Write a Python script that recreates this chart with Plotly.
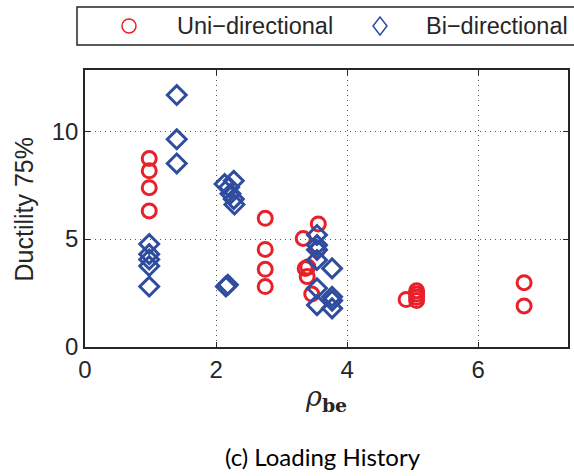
import plotly.graph_objects as go

# Uni-directional loading tests: reinforcement ratio vs. ductility at 75% strength
uni_rho = [0.98, 0.98, 0.98, 0.98,
           2.75, 2.75, 2.75, 2.75,
           3.56, 3.33, 3.55, 3.36, 3.40, 3.39, 3.46,
           4.90, 5.06, 5.06, 5.06, 5.06,
           6.70, 6.70]
uni_duct = [8.73, 8.16, 7.38, 6.30,
            5.96, 4.52, 3.60, 2.80,
            5.70, 5.03, 4.50, 3.64, 3.70, 3.26, 2.45,
            2.20, 2.60, 2.45, 2.30, 2.15,
            2.98, 1.90]

# Bi-directional loading tests
bi_rho = [1.40, 1.40, 1.40,
          0.98, 0.98, 0.98, 0.98, 0.98,
          2.13, 2.20, 2.27, 2.22, 2.27, 2.28,
          2.15, 2.18,
          3.54, 3.54, 3.54, 3.54, 3.54, 3.54,
          3.77, 3.77, 3.77, 3.77]
bi_duct = [11.67, 9.62, 8.50,
           4.77, 4.30, 4.05, 3.75, 2.80,
           7.55, 7.40, 7.70, 7.10, 6.85, 6.60,
           2.80, 2.88,
           5.19, 4.72, 4.50, 4.03, 2.72, 1.94,
           3.64, 2.33, 2.15, 1.79]

x_ticks = [0, 2, 4, 6]
y_ticks = [0, 5, 10]

RED = "#e8202a"
BLUE = "#2f4d9f"
TXT = "#262626"
SANS = "Liberation Sans, Arial"
W, H = 574, 476
ML, MR, MT, MB = 85, 6, 70, 129
PW, PH = W - ML - MR, H - MT - MB


def px(x):
    return (x - ML) / PW


def py(y):
    return (H - MB - y) / PH


fig = go.Figure()
fig.add_trace(go.Scatter(
    x=uni_rho, y=uni_duct, mode="markers", name="Uni\u2212directional",
    marker=dict(symbol="circle-open", size=14, color=RED, line=dict(width=3, color=RED)),
    showlegend=False,
))
fig.add_trace(go.Scatter(
    x=bi_rho, y=bi_duct, mode="markers", name="Bi\u2212directional",
    marker=dict(symbol="diamond-open", size=14.5, color=BLUE, line=dict(width=3, color=BLUE)),
    showlegend=False,
))

axis_common = dict(
    showline=True, linecolor="#262626", linewidth=1.5, mirror="ticks",
    ticks="inside", ticklen=5, tickcolor="#262626",
    showgrid=True, gridcolor="#555555", gridwidth=1, griddash="1px,4px",
    zeroline=False, tickfont=dict(family=SANS, size=24, color=TXT),
)
fig.update_xaxes(range=[0, 7.37], tickvals=x_ticks, ticktext=[str(v) for v in x_ticks],
                 **axis_common)
fig.update_yaxes(range=[0, 12.83], tickvals=y_ticks, ticktext=[str(v) for v in y_ticks],
                 **axis_common)

annotations = [
    # y-axis title
    dict(text="Ductility 75%", x=px(23), y=0.5, xref="paper", yref="paper",
         textangle=-90, showarrow=False, xanchor="center", yanchor="middle",
         font=dict(family=SANS, size=25, color=TXT)),
    # x-axis title
    dict(text="<i>\u03c1</i><sub><b>be</b></sub>", x=px(326), y=py(398), xref="paper", yref="paper",
         showarrow=False, xanchor="center", yanchor="middle",
         font=dict(family="DejaVu Serif, serif", size=27, color=TXT)),
    # caption
    dict(text="(c) Loading History", x=px(323), y=py(456), xref="paper", yref="paper",
         showarrow=False, xanchor="center", yanchor="middle",
         font=dict(family="Lato, Open Sans", size=24, color="#000000")),
    # legend labels
    dict(text="Uni\u2212directional", x=px(175), y=py(26), xref="paper", yref="paper",
         showarrow=False, xanchor="left", yanchor="middle",
         font=dict(family=SANS, size=23.5, color=TXT)),
    dict(text="Bi\u2212directional", x=px(424), y=py(26), xref="paper", yref="paper",
         showarrow=False, xanchor="left", yanchor="middle",
         font=dict(family=SANS, size=23.5, color=TXT)),
]

shapes = [
    # legend frame
    dict(type="rect", xref="paper", yref="paper", x0=px(77), x1=px(620), y0=py(45), y1=py(7),
         line=dict(color="#262626", width=1.5), fillcolor="white", layer="above"),
    # legend symbols
    dict(type="circle", xref="paper", yref="paper", xsizemode="pixel", ysizemode="pixel",
         xanchor=px(129), yanchor=py(26), x0=-7, x1=7, y0=-7, y1=7,
         line=dict(color=RED, width=1.5)),
    dict(type="path", xref="paper", yref="paper", xsizemode="pixel", ysizemode="pixel",
         xanchor=px(380), yanchor=py(26), path="M0,-9 L7,0 L0,9 L-7,0 Z",
         line=dict(color=BLUE, width=1.5)),
]

fig.update_layout(
    width=W, height=H,
    margin=dict(l=ML, r=MR, t=MT, b=MB, autoexpand=False),
    paper_bgcolor="white", plot_bgcolor="white",
    showlegend=False,
    annotations=annotations, shapes=shapes,
)

fig.write_html("out.html")
